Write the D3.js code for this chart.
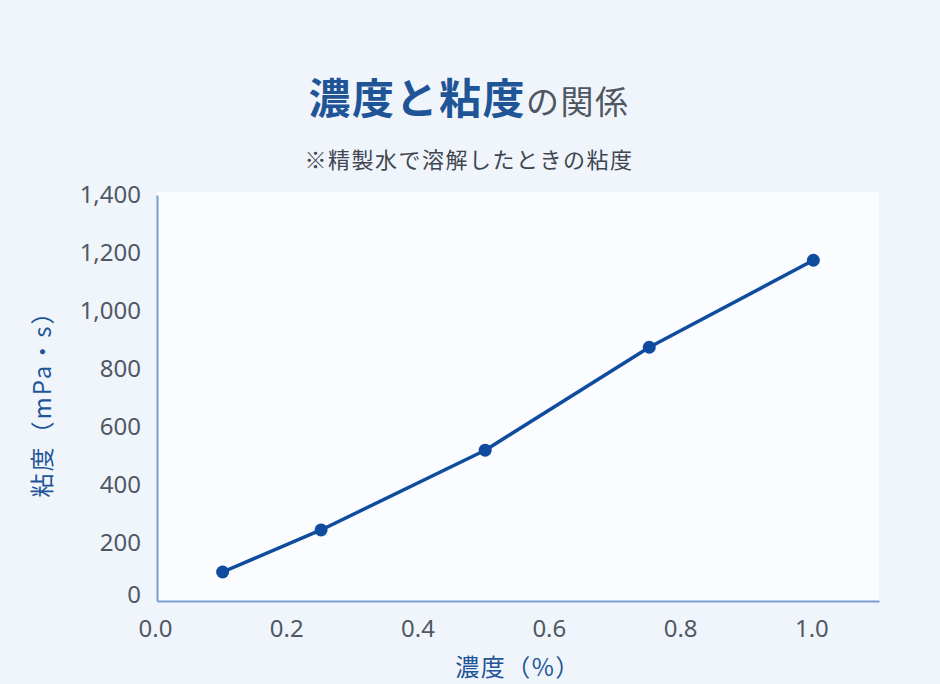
<!DOCTYPE html>
<html lang="ja">
<head>
<meta charset="utf-8">
<script src="https://cdn.jsdelivr.net/npm/d3@7"></script>
<style>
  html, body { margin: 0; padding: 0; background: #f0f5fc; }
  svg { display: block; font-family: "Noto Sans CJK JP", "Noto Sans", sans-serif; }
</style>
</head>
<body>
<div id="chart"></div>
<script>
// data
const concentration = [0.1, 0.25, 0.5, 0.75, 1.0];
const viscosity = [100, 245, 520, 875, 1175];
const xTicks = [0, 0.2, 0.4, 0.6, 0.8, 1.0];
const yTicks = [0, 200, 400, 600, 800, 1000, 1200, 1400];

const width = 940, height = 684;
const margin = { left: 157, right: 61, top: 195, bottom: 83 };

const svg = d3.select("#chart").append("svg")
  .attr("width", width)
  .attr("height", height);

svg.append("rect")
  .attr("width", width).attr("height", height)
  .attr("fill", "#f0f5fc");

////////////////////// Scales //////////////////////
const x = d3.scaleLinear()
  .domain([0, 1.1])
  .range([margin.left, width - margin.right]);

const y = d3.scaleLinear()
  .domain([0, 1400])
  .range([height - margin.bottom, margin.top]);

// plot background
svg.append("rect")
  .attr("x", x(0))
  .attr("y", y(1400) - 3)
  .attr("width", x(1.1) - x(0))
  .attr("height", y(0) - y(1400) + 3)
  .attr("fill", "#fafcff");

////////////////////// Title //////////////////////
const title = svg.append("text")
  .attr("x", 469)
  .attr("y", 114)
  .attr("text-anchor", "middle");
title.append("tspan")
  .attr("font-size", 42)
  .attr("font-weight", 700)
  .attr("letter-spacing", 1.5)
  .attr("fill", "#1f5597")
  .text("濃度と粘度");
title.append("tspan")
  .attr("font-size", 33)
  .attr("letter-spacing", 1.5)
  .attr("fill", "#4f5660")
  .text("の関係");

svg.append("text")
  .attr("x", 469)
  .attr("y", 168)
  .attr("text-anchor", "middle")
  .attr("font-size", 22)
  .attr("letter-spacing", 1.5)
  .attr("fill", "#3f4650")
  .text("※精製水で溶解したときの粘度");

////////////////////// Axes //////////////////////
const yAxis = svg.append("g")
  .attr("transform", `translate(${x(0)},0)`)
  .call(d3.axisLeft(y).tickValues(yTicks).tickSize(0).tickPadding(16).tickFormat(d3.format(",")));

const xAxis = svg.append("g")
  .attr("transform", `translate(0,${y(0)})`)
  .call(d3.axisBottom(x).tickValues(xTicks).tickSize(0).tickPadding(19).tickFormat(d3.format(".1f")));

[xAxis, yAxis].forEach(g => {
  g.select(".domain").attr("stroke", "#7b9ccd").attr("stroke-width", 2);
  g.selectAll("text")
    .attr("fill", "#505864")
    .attr("font-size", 24)
    .attr("font-family", "\"Noto Sans\", sans-serif");
});

// x labels sit a touch left of their ticks in the reference
xAxis.selectAll(".tick text").attr("dx", -2);

// keep the zero label above the bottom axis line
yAxis.selectAll(".tick")
  .attr("transform", d => `translate(0,${Math.min(y(d), y(0) - 6)})`);

svg.append("text")
  .attr("transform", `translate(43,${(y(0) + y(1400)) / 2}) rotate(-90)`)
  .attr("text-anchor", "middle")
  .attr("dy", "0.35em")
  .attr("font-size", 24)
  .attr("letter-spacing", 2)
  .attr("fill", "#1f5597")
  .text("粘度（mPa・s）");

svg.append("text")
  .attr("x", (x(0) + x(1.1)) / 2)
  .attr("y", 668)
  .attr("dy", "0.35em")
  .attr("text-anchor", "middle")
  .attr("font-size", 24)
  .attr("letter-spacing", 1.5)
  .attr("fill", "#1f5597")
  .text("濃度（%）");

////////////////////// Line and points //////////////////////
const points = concentration.map((c, i) => [c, viscosity[i]]);

svg.append("path")
  .datum(points)
  .attr("fill", "none")
  .attr("stroke", "#0f4c9e")
  .attr("stroke-width", 3.5)
  .attr("stroke-linejoin", "round")
  .attr("d", d3.line().x(d => x(d[0])).y(d => y(d[1])));

svg.selectAll("circle.pt")
  .data(points)
  .enter().append("circle")
  .attr("class", "pt")
  .attr("cx", d => x(d[0]))
  .attr("cy", d => y(d[1]))
  .attr("r", 6.5)
  .attr("fill", "#0f4c9e");
</script>
</body>
</html>
